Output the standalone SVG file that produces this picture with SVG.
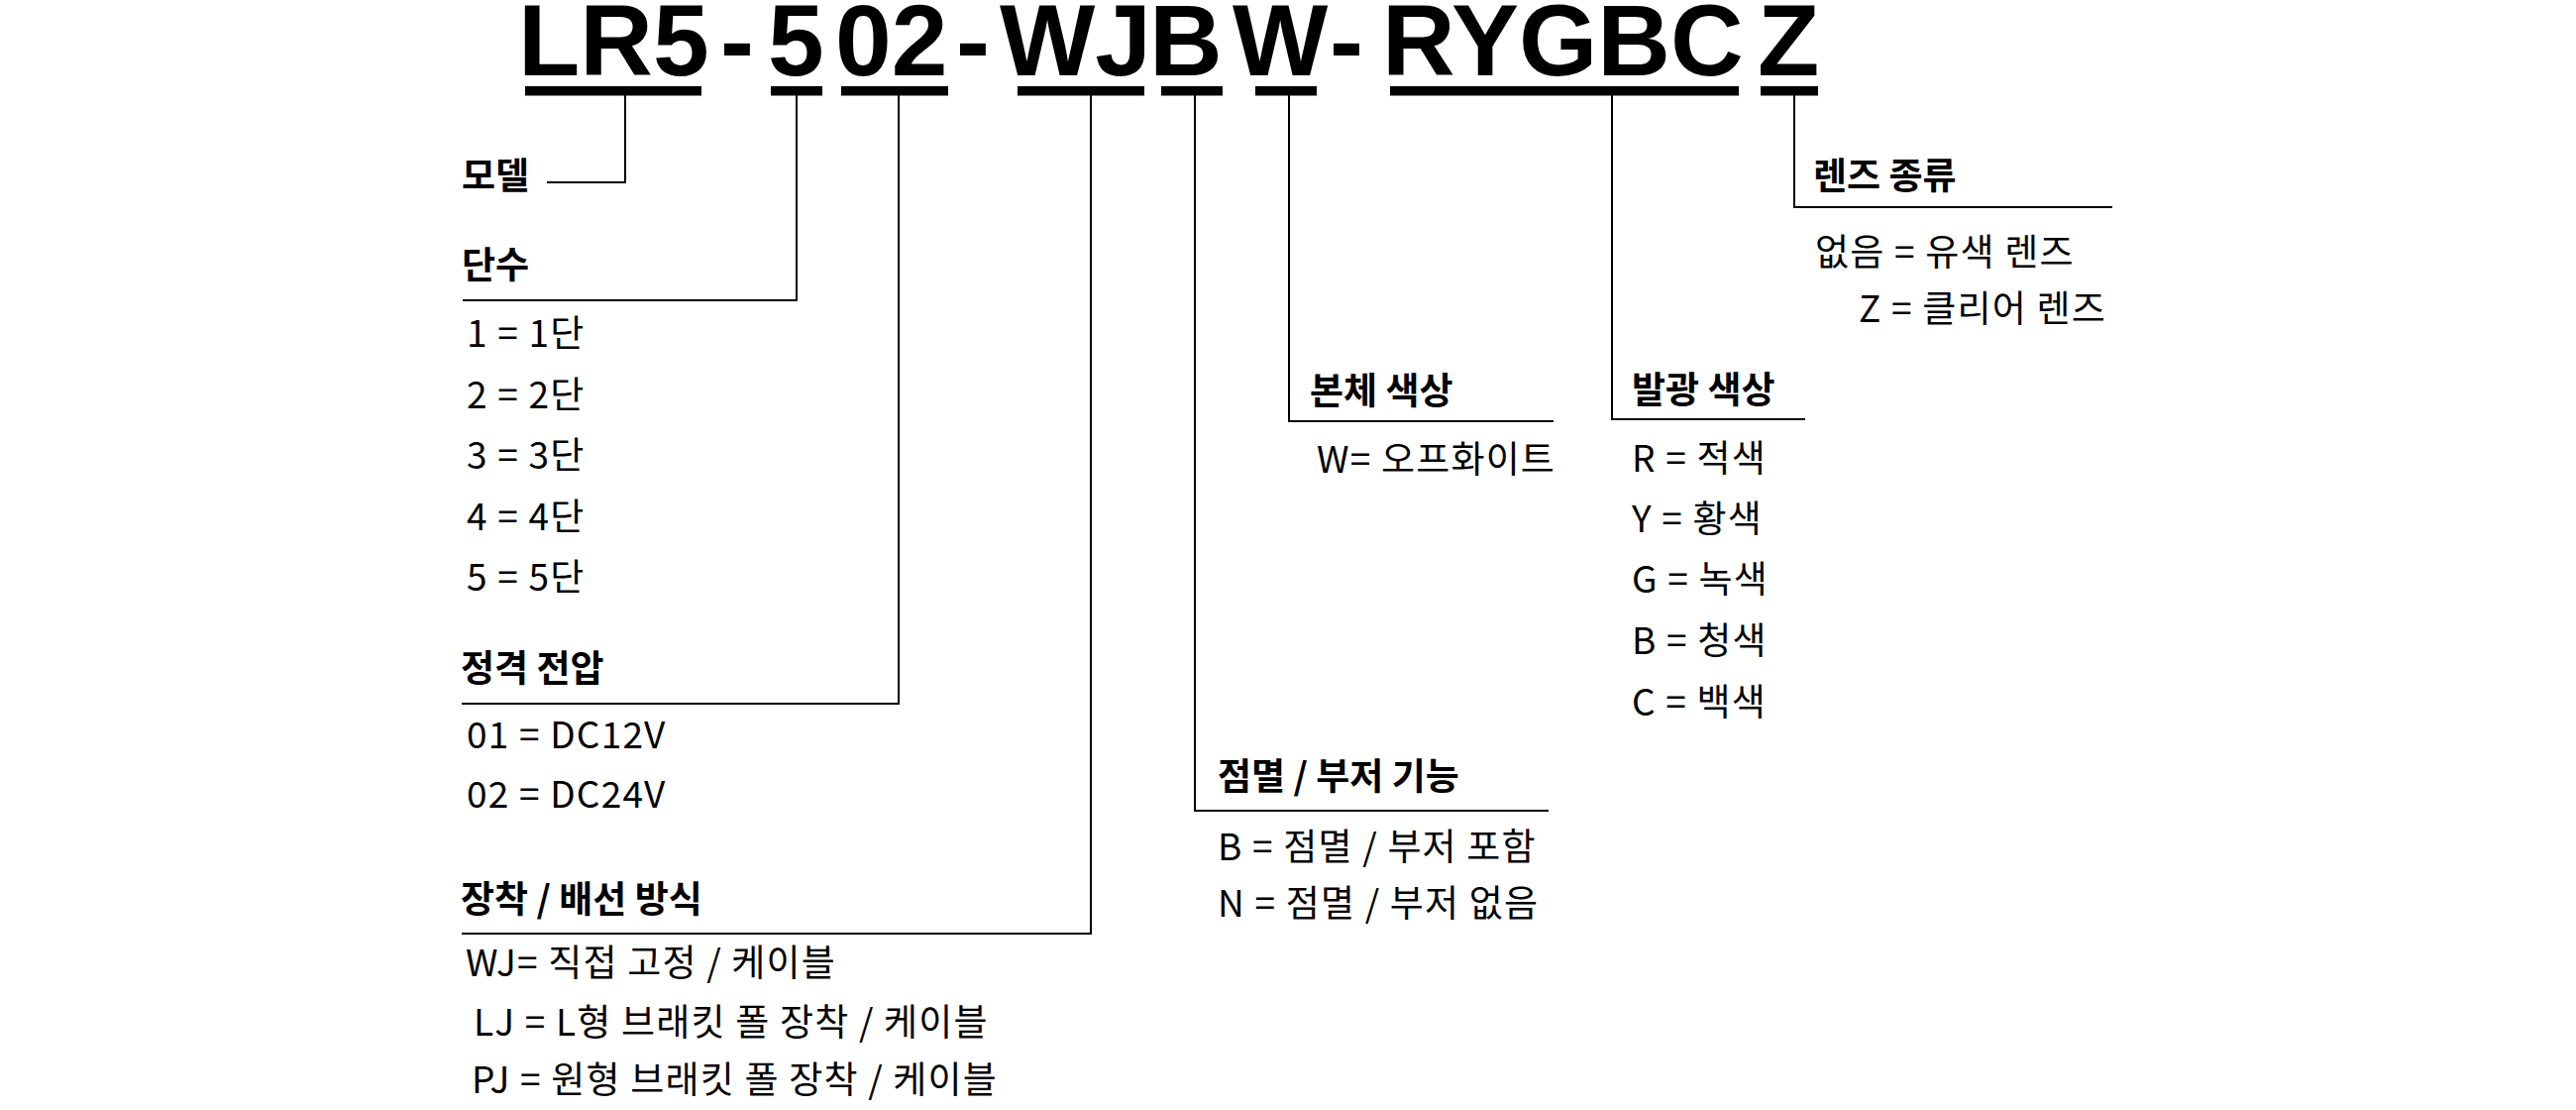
<svg xmlns="http://www.w3.org/2000/svg" width="2600" height="1120" viewBox="0 0 2600 1120">
<style>
.code{font-family:"Liberation Sans",Arial,sans-serif;font-weight:700;font-size:102px;fill:#000}
.bar{fill:#000}
.h{font-family:"Noto Sans CJK KR","Noto Sans",sans-serif;font-weight:700;font-size:37px;fill:#000}
.t{font-family:"Noto Sans CJK KR","Noto Sans",sans-serif;font-weight:400;font-size:37px;letter-spacing:1.2px;fill:#000}
.c{fill:none;stroke:#000;stroke-width:2}
</style>
<rect width="2600" height="1120" fill="#fff"/>
<g id="code">
<text class="code" x="523" y="76">LR5</text>
<text class="code" x="727" y="76">-</text>
<text class="code" x="775" y="76">5</text>
<text class="code" x="843" y="76">02</text>
<text class="code" x="965" y="76">-</text>
<text class="code" x="1009" y="76">WJ</text>
<text class="code" x="1160" y="76">B</text>
<text class="code" x="1244" y="76">W</text>
<text class="code" x="1342" y="76">-</text>
<text class="code" x="1395" y="76">RYGBC</text>
<text class="code" x="1774" y="76">Z</text>
<rect class="bar" x="530" y="87" width="178" height="9.5"/>
<rect class="bar" x="778" y="87" width="52" height="9.5"/>
<rect class="bar" x="849" y="87" width="108" height="9.5"/>
<rect class="bar" x="1027" y="87" width="128" height="9.5"/>
<rect class="bar" x="1172" y="87" width="62" height="9.5"/>
<rect class="bar" x="1267" y="87" width="62" height="9.5"/>
<rect class="bar" x="1403" y="87" width="352" height="9.5"/>
<rect class="bar" x="1777" y="87" width="58" height="9.5"/>
</g>
<g id="connectors">
<path class="c" d="M631,96 V184 H552"/>
<path class="c" d="M804,96 V303 H467"/>
<path class="c" d="M907,96 V710 H466"/>
<path class="c" d="M1101,96 V942 H466"/>
<path class="c" d="M1206,96 V818 H1563"/>
<path class="c" d="M1301,96 V425 H1568"/>
<path class="c" d="M1627,96 V423 H1822"/>
<path class="c" d="M1811,96 V209 H2132"/>
</g>
<g id="model">
<text class="h" x="466" y="191">모델</text>
</g>
<g id="tiers">
<text class="h" x="466" y="281">단수</text>
<text class="t" x="471" y="350">1 = 1단</text>
<text class="t" x="471" y="411.5">2 = 2단</text>
<text class="t" x="471" y="473">3 = 3단</text>
<text class="t" x="471" y="534.5">4 = 4단</text>
<text class="t" x="471" y="596">5 = 5단</text>
</g>
<g id="voltage">
<text class="h" x="465" y="688">정격 전압</text>
<text class="t" x="471" y="755">01 = DC12V</text>
<text class="t" x="471" y="815">02 = DC24V</text>
</g>
<g id="mounting">
<text class="h" x="465" y="921">장착 / 배선 방식</text>
<text class="t" x="470" y="985">WJ= 직접 고정 / 케이블</text>
<text class="t" x="478" y="1045">LJ = L형 브래킷 폴 장착 / 케이블</text>
<text class="t" x="476" y="1103">PJ = 원형 브래킷 폴 장착 / 케이블</text>
</g>
<g id="flash">
<text class="h" x="1229" y="797">점멸 / 부저 기능</text>
<text class="t" x="1229" y="868">B = 점멸 / 부저 포함</text>
<text class="t" x="1229" y="925">N = 점멸 / 부저 없음</text>
</g>
<g id="body-color">
<text class="h" x="1322" y="408">본체 색상</text>
<text class="t" x="1329" y="477">W= 오프화이트</text>
</g>
<g id="light-color">
<text class="h" x="1647" y="407">발광 색상</text>
<text class="t" x="1647" y="476">R = 적색</text>
<text class="t" x="1647" y="537">Y = 황색</text>
<text class="t" x="1647" y="598">G = 녹색</text>
<text class="t" x="1647" y="660">B = 청색</text>
<text class="t" x="1647" y="722">C = 백색</text>
</g>
<g id="lens">
<text class="h" x="1830" y="191">렌즈 종류</text>
<text class="t" x="1832" y="268">없음 = 유색 렌즈</text>
<text class="t" x="1876" y="325">Z = 클리어 렌즈</text>
</g>
</svg>
